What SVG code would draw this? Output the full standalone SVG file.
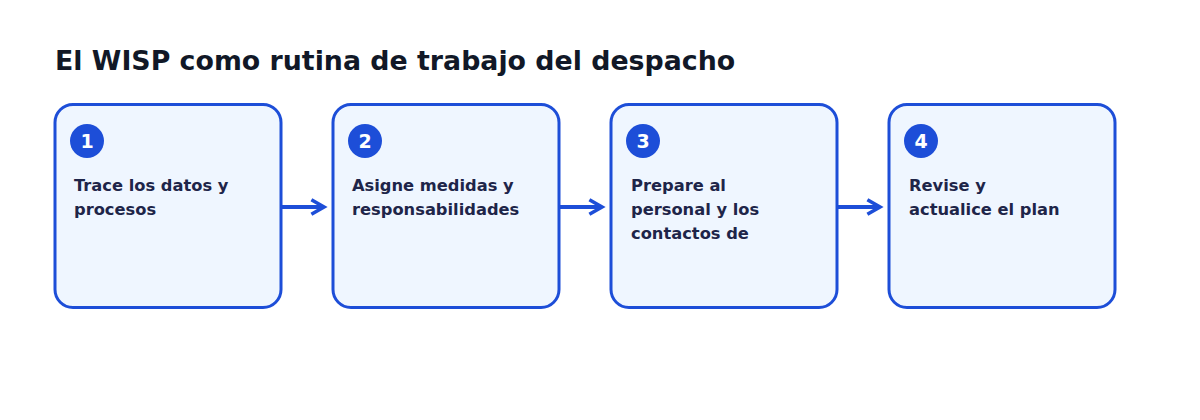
<svg xmlns="http://www.w3.org/2000/svg" width="1200" height="420" viewBox="0 0 1200 420">
<style>
.title{font-family:"DejaVu Sans",sans-serif;font-weight:bold;font-size:26.8px;fill:#111827}
.box{fill:#eff6ff;stroke:#1d4ed8;stroke-width:3}
.badge{fill:#1d4ed8}
.num{font-family:"DejaVu Sans",sans-serif;font-weight:bold;font-size:19px;fill:#ffffff;text-anchor:middle}
.lbl{font-family:"DejaVu Sans",sans-serif;font-weight:bold;font-size:16.3px;fill:#1e2549}
.conn{stroke:#1d4ed8;stroke-width:4;fill:none}
</style>
<defs>
<marker id="arr" viewBox="0 0 10 10" refX="8" refY="5" markerWidth="4.5" markerHeight="4.5" orient="auto" markerUnits="strokeWidth">
<path d="M1,1 L8,5 L1,9" fill="none" stroke="#1d4ed8" stroke-width="2"/>
</marker>
</defs>
<rect width="1200" height="420" fill="#ffffff"/>
<text class="title" x="55" y="70">El WISP como rutina de trabajo del despacho</text>
<g id="node1">
<rect class="box" x="55" y="104.5" width="226" height="203" rx="18"/>
<circle class="badge" cx="87" cy="141" r="17"/>
<text class="num" x="87" y="148">1</text>
<text class="lbl" x="74" y="191">Trace los datos y</text>
<text class="lbl" x="74" y="215">procesos</text>
</g>
<g id="node2">
<rect class="box" x="333" y="104.5" width="226" height="203" rx="18"/>
<circle class="badge" cx="365" cy="141" r="17"/>
<text class="num" x="365" y="148">2</text>
<text class="lbl" x="352" y="191">Asigne medidas y</text>
<text class="lbl" x="352" y="215">responsabilidades</text>
</g>
<g id="node3">
<rect class="box" x="611" y="104.5" width="226" height="203" rx="18"/>
<circle class="badge" cx="643" cy="141" r="17"/>
<text class="num" x="643" y="148">3</text>
<text class="lbl" x="631" y="191">Prepare al</text>
<text class="lbl" x="631" y="215">personal y los</text>
<text class="lbl" x="631" y="239">contactos de</text>
</g>
<g id="node4">
<rect class="box" x="889" y="104.5" width="226" height="203" rx="18"/>
<circle class="badge" cx="921" cy="141" r="17"/>
<text class="num" x="921" y="148">4</text>
<text class="lbl" x="909" y="191">Revise y</text>
<text class="lbl" x="909" y="215">actualice el plan</text>
</g>
<g id="connectors">
<line class="conn" x1="282" y1="207" x2="324" y2="207" marker-end="url(#arr)"/>
<line class="conn" x1="560" y1="207" x2="602" y2="207" marker-end="url(#arr)"/>
<line class="conn" x1="838" y1="207" x2="880" y2="207" marker-end="url(#arr)"/>
</g>
</svg>
